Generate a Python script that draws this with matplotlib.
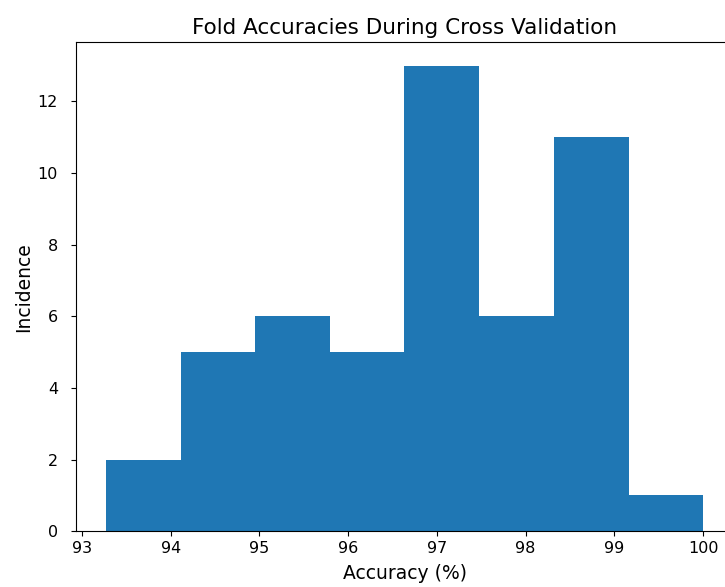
import numpy as np
import matplotlib
matplotlib.use("Agg")
import matplotlib.pyplot as plt

# bin edges and counts
bin_edges = [93.27, 94.11, 94.95, 95.79, 96.63, 97.47, 98.32, 99.16, 100.0]
counts = [2, 5, 6, 5, 13, 6, 11, 1]

fig = plt.figure(figsize=(7.25, 5.87), dpi=100)
ax = fig.add_axes([0.105, 0.095, 0.906, 0.833])
ax.hist(bin_edges[:-1], bins=bin_edges, weights=counts, color="#1f77b4")
ax.set_title("Fold Accuracies During Cross Validation", fontsize=15.5, pad=6)
ax.set_xlabel("Accuracy (%)", fontsize=13.5, labelpad=6)
ax.set_ylabel("Incidence", fontsize=13.5, labelpad=3)
ax.tick_params(labelsize=11.5)
ax.tick_params(axis="y", pad=9.5)
fig.savefig("out.png", dpi=100)
